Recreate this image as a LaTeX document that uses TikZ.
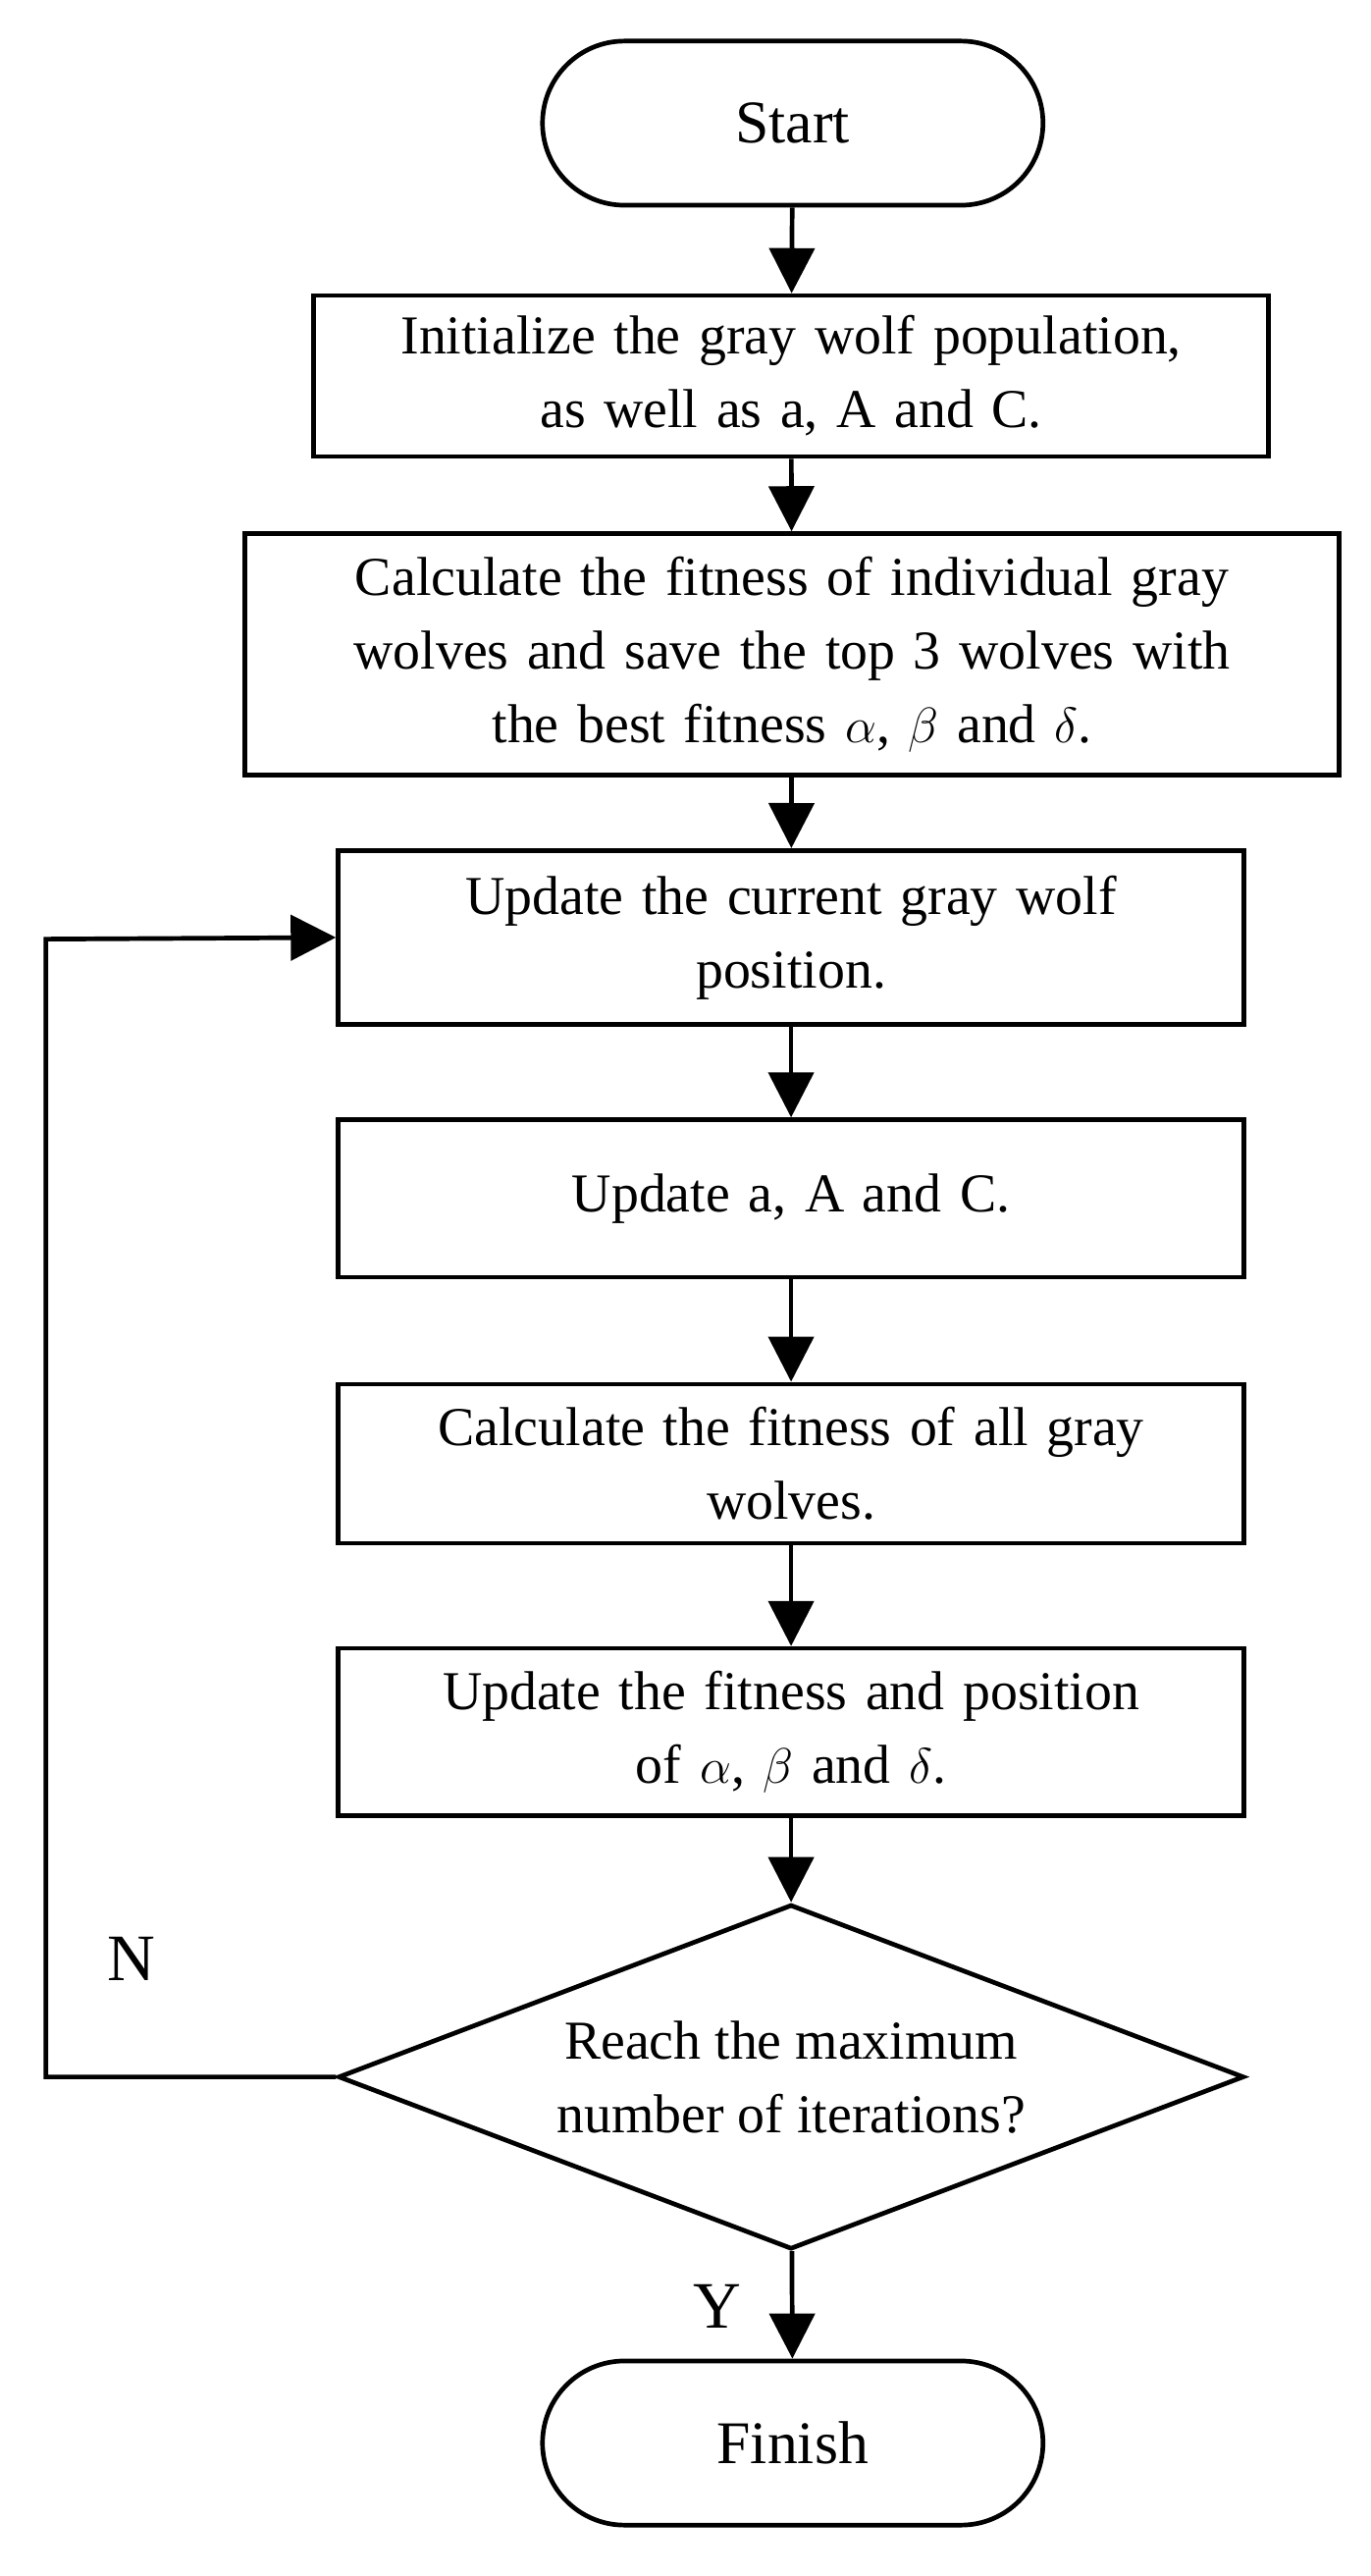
\documentclass[tikz,border=0pt]{standalone}
\usepackage{fontspec}
\setmainfont{Liberation Serif}
\usetikzlibrary{shapes.geometric,arrows.meta}
\begin{document}
\begin{tikzpicture}[x=0.02cm,y=-0.02cm,
  every node/.style={font=\fontsize{19}{25.5}\selectfont},
  box/.style={draw,line width=1.6pt,align=center,inner sep=0},
  term/.style={box,rounded corners=1cm,minimum width=6.1cm,minimum height=2cm,font=\fontsize{21}{26}\selectfont},
  arr/.style={line width=1.6pt,-{Triangle[length=0.55cm,width=0.55cm]}}]
\useasboundingbox (0,0) rectangle (835,1569);
\node[term] (s) at (483,75) {Start};
\node[box,minimum width=11.64cm,minimum height=1.96cm,text width=11.3cm] (b1) at (482,229) {Initialize the gray wolf population,\\as well as a, A and C.};
\node[box,minimum width=13.34cm,minimum height=2.94cm,text width=13cm] (b2) at (482.5,398.5) {Calculate the fitness of individual gray\\wolves and save the top 3 wolves with\\the best fitness $\alpha$, $\beta$ and $\delta$.};
\node[box,minimum width=11.04cm,minimum height=2.12cm,text width=10.8cm] (b3) at (482,571) {Update the current gray wolf\\position.};
\node[box,minimum width=11.04cm,minimum height=1.92cm,text width=10.8cm] (b4) at (482,730) {Update a, A and C.};
\node[box,minimum width=11.04cm,minimum height=1.94cm,text width=10.8cm] (b5) at (482,891.5) {Calculate the fitness of all gray\\wolves.};
\node[box,minimum width=11.04cm,minimum height=2.04cm,text width=10.8cm] (b6) at (482,1055) {Update the fitness and position\\of $\alpha$, $\beta$ and $\delta$.};
\node[draw,line width=1.6pt,diamond,inner sep=0,aspect=2.63,minimum width=11.04cm,minimum height=4.2cm,align=center] (d) at (482,1265) {Reach the maximum\\number of iterations?};
\node[term] (f) at (483,1488) {Finish};
\draw[arr] (s) -- (b1);
\draw[arr] (b1) -- (b2);
\draw[arr] (b2) -- (b3);
\draw[arr] (b3) -- (b4);
\draw[arr] (b4) -- (b5);
\draw[arr] (b5) -- (b6);
\draw[arr] (b6) -- (d);
\draw[arr] (d) -- (f);
\coordinate (l1) at (28,1265);
\coordinate (l2) at (28,572);
\draw[arr] (d.west) -- (l1) -- (l2) -- (b3.west);
\node[font=\fontsize{23}{26}\selectfont] (n) at (80,1193) {N};
\node[font=\fontsize{23}{26}\selectfont] (y) at (437,1405) {Y};
\end{tikzpicture}
\end{document}
